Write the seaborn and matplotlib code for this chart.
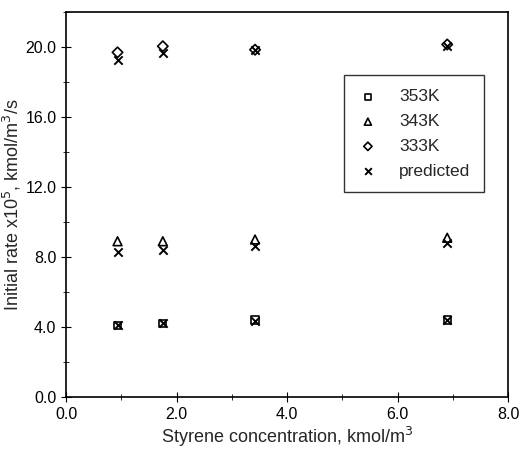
import pandas as pd
import matplotlib
matplotlib.use("Agg")
import matplotlib.pyplot as plt
import seaborn as sns
from matplotlib.ticker import MultipleLocator, FormatStrFormatter

conc = [0.93, 1.75, 3.42, 6.9]
rate_353 = [4.1, 4.2, 4.4, 4.4]
rate_343 = [8.9, 8.9, 9.0, 9.1]
rate_333 = [19.7, 20.05, 19.85, 20.15]
# predicted values
pred_353 = [4.1, 4.2, 4.35, 4.4]
pred_343 = [8.3, 8.4, 8.6, 8.8]
pred_333 = [19.25, 19.65, 19.85, 20.05]

sns.set_style("ticks")
plt.rcParams["font.family"] = ["Liberation Sans", "DejaVu Sans"]

rows = []
for lab, vals in [("353K", rate_353), ("343K", rate_343), ("333K", rate_333)]:
    rows += [{"x": x, "y": y, "series": lab} for x, y in zip(conc, vals)]
for vals in [pred_353, pred_343, pred_333]:
    rows += [{"x": x, "y": y, "series": "predicted"} for x, y in zip(conc, vals)]
df = pd.DataFrame(rows)

fig = plt.figure(figsize=(5.21, 4.49), dpi=100)
ax = fig.add_axes([0.127, 0.116, 0.848, 0.857])

markers = {"353K": "s", "343K": "^", "333K": "D"}
sizes = {"353K": 28, "343K": 40, "333K": 28}
for lab in ["353K", "343K", "333K"]:
    sns.scatterplot(data=df[df["series"] == lab], x="x", y="y", marker=markers[lab],
                    s=sizes[lab], facecolors="none", edgecolor="black",
                    linewidth=1.2, label=lab, ax=ax)
sns.scatterplot(data=df[df["series"] == "predicted"], x="x", y="y", marker="x",
                s=36, color="black", linewidth=1.4, label="predicted", ax=ax)

ax.set_xlim(0, 8)
ax.set_ylim(0, 22)
ax.xaxis.set_major_locator(MultipleLocator(2))
ax.xaxis.set_minor_locator(MultipleLocator(1))
ax.yaxis.set_major_locator(MultipleLocator(4))
ax.yaxis.set_minor_locator(MultipleLocator(2))
ax.xaxis.set_major_formatter(FormatStrFormatter("%.1f"))
ax.yaxis.set_major_formatter(FormatStrFormatter("%.1f"))
ax.tick_params(which="both", direction="inout", labelsize=11.5, colors="black")
ax.tick_params(which="major", length=7)
ax.tick_params(which="minor", length=4)
for s in ax.spines.values():
    s.set_color("black")
    s.set_linewidth(1.2)

ax.set_xlabel("Styrene concentration, kmol/m$^3$", fontsize=13, labelpad=2)
ax.set_ylabel("Initial rate x10$^5$, kmol/m$^3$/s", fontsize=13, labelpad=2)

leg = ax.legend(loc="upper right", bbox_to_anchor=(0.966, 0.858), frameon=True,
                fancybox=False, edgecolor="black", fontsize=12.5, markerscale=0.8,
                handlelength=1.2, handletextpad=1.2, labelspacing=0.55, borderpad=0.8)
leg.get_frame().set_linewidth(1.0)

fig.savefig("out.png", dpi=100)
